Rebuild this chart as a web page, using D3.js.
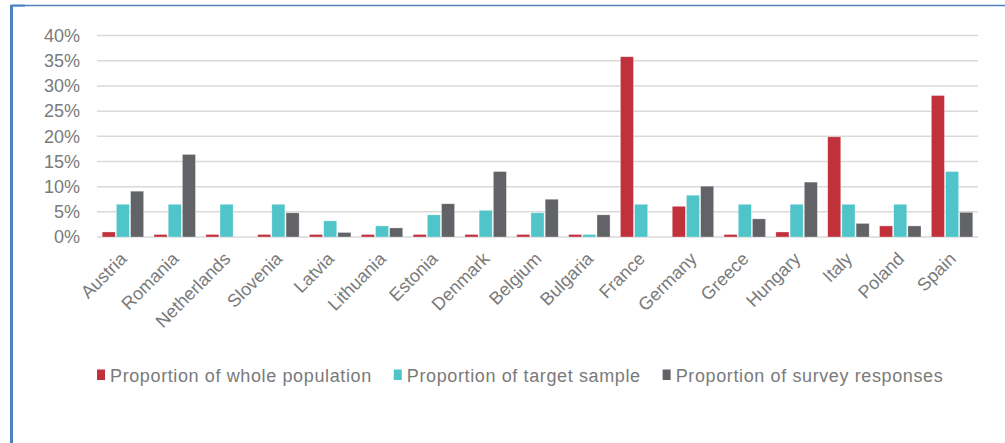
<!DOCTYPE html>
<html>
<head>
<meta charset="utf-8">
<script src="https://cdn.jsdelivr.net/npm/d3@7"></script>
<style>
  html, body { margin: 0; padding: 0; background: #fff; }
  svg { display: block; }
  text { font-family: "Liberation Sans", Arial, sans-serif; }
</style>
</head>
<body>
<svg id="chart" width="1005" height="443"></svg>
<script>
const countries = ["Austria","Romania","Netherlands","Slovenia","Latvia","Lithuania","Estonia","Denmark","Belgium","Bulgaria","France","Germany","Greece","Hungary","Italy","Poland","Spain"];
const seriesNames = ["Proportion of whole population","Proportion of target sample","Proportion of survey responses"];
const wholePopulation = [1.0, 0.5, 0.5, 0.5, 0.5, 0.5, 0.5, 0.5, 0.5, 0.5, 35.8, 6.1, 0.5, 1.0, 19.9, 2.2, 28.1];
const targetSample    = [6.5, 6.5, 6.5, 6.5, 3.2, 2.2, 4.4, 5.3, 4.8, 0.5, 6.5, 8.3, 6.5, 6.5, 6.5, 6.5, 13.0];
const surveyResponses = [9.1, 16.4, 0, 4.8, 0.9, 1.8, 6.6, 13.0, 7.5, 4.4, 0, 10.1, 3.6, 10.9, 2.7, 2.2, 4.9];
const yTicks = [0, 5, 10, 15, 20, 25, 30, 35, 40];
const colors = ["#C1313C", "#4FC4C9", "#626366"];

const svg = d3.select("#chart");
const series = [wholePopulation, targetSample, surveyResponses];

// frame
svg.append("line").attr("x1", 10).attr("x2", 1005).attr("y1", 5.5).attr("y2", 5.5)
  .attr("stroke", "#4F81BD").attr("stroke-width", 1.4);
svg.append("rect").attr("x", 12).attr("y", 4.6).attr("width", 13).attr("height", 2)
  .attr("fill", "#4F81BD");
svg.append("rect").attr("x", 10).attr("y", 5).attr("width", 3).attr("height", 438)
  .attr("fill", "#4F81BD");

const plotLeft = 97, plotRight = 978, plotTop = 35.6, plotBottom = 237;
const x0 = d3.scaleBand().domain(countries).range([plotLeft, plotRight]).paddingInner(0.2).paddingOuter(0.1);
const x1 = d3.scaleBand().domain(d3.range(3)).range([0, x0.bandwidth()]).paddingInner(0.08);
const y = d3.scaleLinear().domain([0, 40]).range([plotBottom, plotTop]);

// gridlines
svg.append("g").selectAll("line").data(yTicks).join("line")
  .attr("x1", plotLeft).attr("x2", plotRight)
  .attr("y1", d => y(d)).attr("y2", d => y(d))
  .attr("stroke", "#D9D9D9").attr("stroke-width", 1.5);

// y axis labels
const yAxis = d3.axisLeft(y).tickValues(yTicks).tickFormat(d => d + "%").tickSize(0).tickPadding(0);
const gy = svg.append("g").attr("transform", `translate(80,0)`).call(yAxis);
gy.select(".domain").remove();
gy.selectAll("text").attr("font-size", 18).attr("fill", "#7A7A7A")
  .attr("font-family", "Liberation Sans, Arial, sans-serif");

// bars
const groups = svg.append("g").selectAll("g").data(countries).join("g")
  .attr("transform", d => `translate(${x0(d)},0)`);
groups.selectAll("rect").data((c, i) => series.map((s, k) => ({k, v: s[i]})).filter(d => d.v > 0))
  .join("rect")
  .attr("x", d => x1(d.k))
  .attr("width", x1.bandwidth())
  .attr("y", d => y(d.v))
  .attr("height", d => y(0) - y(d.v))
  .attr("fill", d => colors[d.k])
  .attr("stroke", "#ffffff").attr("stroke-opacity", 0.5).attr("stroke-width", 0.6);

// x axis labels
const xAxis = d3.axisBottom(x0).tickSize(0).tickPadding(0);
const gx = svg.append("g").attr("transform", `translate(5,${plotBottom + 23})`).call(xAxis);
gx.select(".domain").remove();
gx.selectAll("text")
  .attr("font-size", 18).attr("fill", "#7A7A7A")
  .attr("font-family", "Liberation Sans, Arial, sans-serif")
  .attr("text-anchor", "end").attr("dy", 0).attr("y", 0)
  .attr("transform", "rotate(-45)");

// legend
const legend = svg.append("g").attr("transform", "translate(97,375)");
let lx = 0;
seriesNames.forEach((name, k) => {
  const g = legend.append("g").attr("transform", `translate(${lx},0)`);
  g.append("rect").attr("x", 0).attr("y", -5.5).attr("width", 8).attr("height", 10.5).attr("fill", colors[k]);
  const t = g.append("text").attr("x", 13).attr("y", 6.5).attr("font-size", 18)
    .attr("letter-spacing", 0.62).attr("fill", "#7A7A7A").text(name);
  lx += 13 + t.node().getComputedTextLength() + 22;
});
</script>
</body>
</html>
